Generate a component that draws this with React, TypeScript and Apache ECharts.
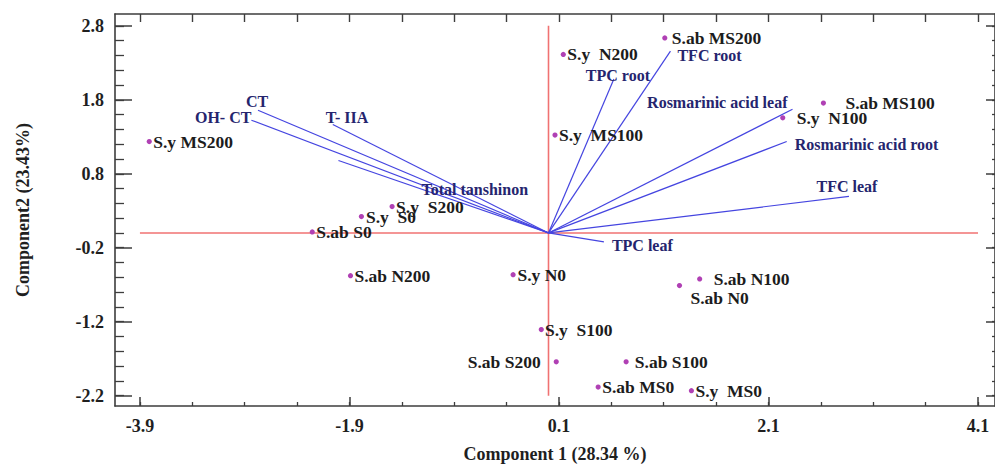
import React, { useEffect, useRef } from "react";
import * as echarts from "echarts";

// ---------- data ----------
const sampleNames = [
  "S.y MS200", "S.y  S200", "S.y  S0", "S.ab S0", "S.y  MS100", "S.y  N200",
  "S.ab MS200", "S.ab MS100", "S.y  N100", "S.ab N200", "S.y N0", "S.y  S100",
  "S.ab S200", "S.ab N100", "S.ab N0", "S.ab S100", "S.ab MS0", "S.y  MS0",
];
const sampleComp1 = [
  -3.811, -1.493, -1.786, -2.255, 0.062, 0.141,
  1.11, 2.624, 2.236, -1.89, -0.338, -0.069,
  0.074, 1.443, 1.25, 0.741, 0.474, 1.364,
];
const sampleComp2 = [
  1.236, 0.356, 0.222, 0.013, 1.324, 2.413,
  2.636, 1.756, 1.556, -0.578, -0.564, -1.307,
  -1.742, -0.622, -0.711, -1.742, -2.084, -2.133,
];

const variableNames = [
  "CT", "OH- CT", "T- IIA", "Total tanshinon", "TPC root", "TFC root",
  "Rosmarinic acid leaf", "Rosmarinic acid root", "TFC leaf", "TPC leaf",
];
const loadComp1 = [-2.773, -2.836, -2.059, -2.005, 0.624, 1.164, 2.329, 2.274, 2.868, 0.529];
const loadComp2 = [1.658, 1.524, 1.467, 0.98, 2.08, 2.457, 1.671, 1.236, 0.493, -0.12];

const xTickLabels = [-3.9, -1.9, 0.1, 2.1, 4.1];
const yTickLabels = [2.8, 1.8, 0.8, -0.2, -1.2, -2.2];
const xRange = [-4.138, 4.262];
const yRange = [-2.34, 2.96];
const refLineX = [-3.9, 4.1];
const refLineY = [-2.2, 2.8];

const xTitle = "Component 1 (28.34 %)";
const yTitle = "Component2 (23.43%)";

// ---------- label placement (pixels, styles) ----------
const pointLabelDx = [4, 4, 4.5, 4, 4, 4, 7, 22, 14, 4, 4.3, 3.7, -15.6, 14, 11, 8.7, 4, 4];
const pointLabelDy = [0, 0, 0, 0, 0, 0, 0, 0, 0, 0, 0, 0, 0, 0, 12, 0, 0, 0];
const pointLabelAlign = ["left", "left", "left", "left", "left", "left", "left", "left", "left", "left", "left", "left", "right", "left", "left", "left", "left", "left"];

const vecLabelDx = [-1, 0, -7, 83, 4, 7, -5, 8, -2, 8];
const vecLabelDy = [-9, -3, -7, 29, -4, 4, -7, 3, -10, 4];
const vecLabelAlign = ["center", "right", "left", "left", "center", "left", "right", "left", "center", "left"];

const FONT = '"Liberation Serif", "Times New Roman", serif';

function minorList(start: number, end: number, step: number): number[] {
  const out: number[] = [];
  const n = Math.round((end - start) / step);
  for (let i = 0; i <= n; i++) out.push(Math.round((start + i * step) * 100) / 100);
  return out;
}

export default function App() {
  const ref = useRef<HTMLDivElement>(null);

  useEffect(() => {
    if (!ref.current) return;
    const chart = echarts.init(ref.current, undefined, { renderer: "svg" });

    const xAll = minorList(xTickLabels[0], xTickLabels[xTickLabels.length - 1], 0.5);
    const yAll = minorList(yTickLabels[yTickLabels.length - 1], yTickLabels[0], 0.2);
    const axisColor = "#3d3d3d";
    const labelFont = { fontFamily: FONT, fontWeight: "bold" as const, fontSize: 18, color: "#1f1f1f" };

    const baseAxis = (extra: any) => ({
      type: "value",
      min: 0,
      max: 0,
      splitLine: { show: false },
      axisLine: { show: false, onZero: false, lineStyle: { color: axisColor, width: 1.6 } },
      axisLabel: { show: false },
      ...extra,
    });

    const xAxes = [
      baseAxis({
        position: "bottom",
        axisLine: { show: true, onZero: false, lineStyle: { color: axisColor, width: 1.6 } },
        axisTick: { show: true, inside: true, length: 9, customValues: xTickLabels, lineStyle: { color: axisColor, width: 1.5 } },
        axisLabel: { show: true, customValues: xTickLabels, formatter: (v: number) => v.toFixed(1), margin: 11, ...labelFont },
        name: xTitle,
        nameLocation: "middle",
        nameGap: 39,
        nameTextStyle: { ...labelFont, fontSize: 18 },
      }),
      baseAxis({
        position: "bottom",
        axisTick: { show: true, inside: true, length: 4, customValues: xAll, lineStyle: { color: axisColor, width: 1.3 } },
      }),
      baseAxis({
        position: "top",
        axisLine: { show: true, onZero: false, lineStyle: { color: axisColor, width: 1.6 } },
        axisTick: { show: true, inside: true, length: 8, customValues: xAll, lineStyle: { color: axisColor, width: 1.4 } },
      }),
    ].map((a: any) => ({ ...a, min: xRange[0], max: xRange[1] }));

    const yAxes = [
      baseAxis({
        position: "left",
        axisLine: { show: true, onZero: false, lineStyle: { color: axisColor, width: 1.6 } },
        axisTick: { show: true, inside: true, length: 17, customValues: yTickLabels, lineStyle: { color: axisColor, width: 1.5 } },
        axisLabel: { show: true, customValues: yTickLabels, formatter: (v: number) => v.toFixed(1), margin: 11, ...labelFont },
        name: yTitle,
        nameLocation: "middle",
        nameRotate: 90,
        nameGap: 83,
        nameTextStyle: { ...labelFont, fontSize: 18 },
      }),
      baseAxis({
        position: "left",
        axisTick: { show: true, inside: true, length: 9, customValues: yAll, lineStyle: { color: axisColor, width: 1.3 } },
      }),
      baseAxis({
        position: "right",
        axisLine: { show: true, onZero: false, lineStyle: { color: axisColor, width: 1.6 } },
        axisTick: { show: true, inside: true, length: 9, customValues: yTickLabels, lineStyle: { color: axisColor, width: 1.5 } },
      }),
      baseAxis({
        position: "right",
        axisTick: { show: true, inside: true, length: 3, customValues: yAll, lineStyle: { color: axisColor, width: 1.3 } },
      }),
    ].map((a: any) => ({ ...a, min: yRange[0], max: yRange[1] }));

    const vectorData = variableNames.map((_, i) => [loadComp1[i], loadComp2[i]]);
    const pointData = sampleNames.map((_, i) => [sampleComp1[i], sampleComp2[i]]);

    chart.setOption({
      animation: false,
      backgroundColor: "#ffffff",
      grid: { left: 115, right: -2, top: 14, bottom: 56.5, containLabel: false },
      xAxis: xAxes,
      yAxis: yAxes,
      series: [
        {
          type: "line",
          data: [[refLineX[0], 0], [refLineX[1], 0]],
          symbol: "none",
          silent: true,
          lineStyle: { color: "#f07272", width: 1.6 },
          z: 1,
        },
        {
          type: "line",
          data: [[0, refLineY[0]], [0, refLineY[1]]],
          symbol: "none",
          silent: true,
          lineStyle: { color: "#f07272", width: 1.6 },
          z: 1,
        },
        {
          type: "custom",
          coordinateSystem: "cartesian2d",
          data: vectorData,
          encode: { x: 0, y: 1 },
          silent: true,
          z: 2,
          renderItem: (params: any, api: any) => {
            const i = params.dataIndex;
            const o = api.coord([0, 0]);
            const e = api.coord([api.value(0), api.value(1)]);
            return {
              type: "group",
              children: [
                {
                  type: "line",
                  shape: { x1: o[0], y1: o[1], x2: e[0], y2: e[1] },
                  style: { stroke: "#4545e0", lineWidth: 1.2 },
                },
                {
                  type: "text",
                  x: e[0] + vecLabelDx[i],
                  y: e[1] + vecLabelDy[i],
                  style: {
                    text: variableNames[i],
                    fill: "#25256e",
                    fontFamily: FONT,
                    fontWeight: "bold",
                    fontSize: 16,
                    align: vecLabelAlign[i],
                    verticalAlign: "middle",
                  },
                },
              ],
            };
          },
        },
        {
          type: "custom",
          coordinateSystem: "cartesian2d",
          data: pointData,
          encode: { x: 0, y: 1 },
          silent: true,
          z: 3,
          renderItem: (params: any, api: any) => {
            const i = params.dataIndex;
            const p = api.coord([api.value(0), api.value(1)]);
            return {
              type: "group",
              children: [
                {
                  type: "circle",
                  shape: { cx: p[0], cy: p[1], r: 2.6 },
                  style: { fill: "#b040b4" },
                },
                {
                  type: "text",
                  x: p[0] + pointLabelDx[i],
                  y: p[1] + pointLabelDy[i],
                  style: {
                    text: sampleNames[i],
                    fill: "#1c1c1c",
                    fontFamily: FONT,
                    fontWeight: "bold",
                    fontSize: 17.5,
                    align: pointLabelAlign[i],
                    verticalAlign: "middle",
                  },
                },
              ],
            };
          },
        },
      ],
    });

    return () => chart.dispose();
  }, []);

  return (
    <div
      ref={ref}
      style={{ position: "fixed", left: 0, top: 0, width: 995, height: 468, background: "#fff" }}
    />
  );
}
